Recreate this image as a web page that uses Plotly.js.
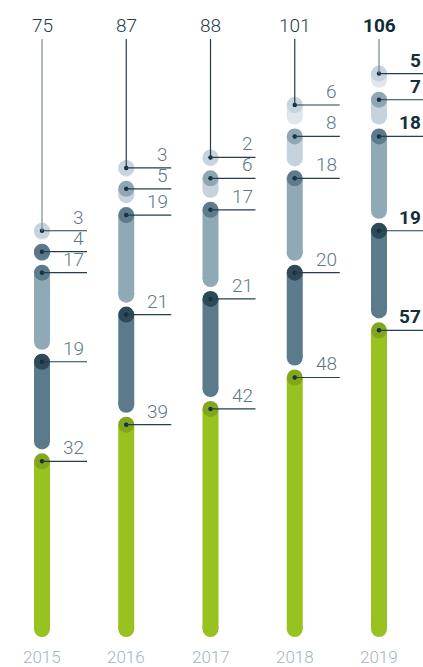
<!DOCTYPE html>
<html>
<head>
<meta charset="utf-8">
<script src="https://cdn.plot.ly/plotly-3.0.1.min.js"></script>
<style>html,body{margin:0;padding:0;background:#fff;}#chart{width:423px;height:667px;}</style>
</head>
<body>
<div id="chart"></div>
<script>
// ---- data ----
const years = [2015, 2016, 2017, 2018, 2019];
const yearLabels = ["2015", "2016", "2017", "2018", "2019"];
const seriesGreen = [32, 39, 42, 48, 57];
const seriesDark = [19, 21, 21, 20, 19];
const seriesMid = [17, 19, 17, 18, 18];
const seriesLight = [4, 5, 6, 8, 7];
const seriesLightest = [3, 3, 2, 6, 5];
const totals = [75, 87, 88, 101, 106];

// ---- style ----
const layers = [seriesGreen, seriesDark, seriesMid, seriesLight, seriesLightest];
const bodyColors = ["#97c21f", "#5b7b8c", "#90a9b7", "#c6d3dc", "#dfe6ec"];
const capColors  = ["#82a61c", "#2e4a59", "#5d7b8b", "#8fa7b5", "#c7d4dd"];
const overrides = {"0-3": {body: "#7d97a5", cap: "#5b7888"}};
const totalLineColors = ["#7a8e98", "#1f3c4a", "#1f3c4a", "#1f3c4a", "#6d8694"];
const ZERO_PX = 629, PX_PER_UNIT = 5.24, H = 667;
const pxToVal = px => (ZERO_PX - px) / PX_PER_UNIT;
const GAP = 3.8;        // gap below each capsule, in units
const MIN_SEG = 4;      // minimum drawn height of a segment, in units
const BAR_W = 16;
const X0_PX = 42, STEP_PX = 84.25, W = 423;

const traces = [];
const shapes = [];
const annotations = [];
const dotX = [], dotY = [];

years.forEach((yr, i) => {
  let pos = 0;
  layers.forEach((layer, k) => {
    const v = layer[i];
    const prev = pos;
    pos += Math.max(v, MIN_SEG);
    const bottom = k === 0 ? 0 : Math.min(prev + GAP, pos);
    const ov = overrides[i + "-" + k];
    const body = ov ? ov.body : bodyColors[k];
    const cap = ov ? ov.cap : capColors[k];
    traces.push({
      type: "scatter", mode: "lines+markers", x: [yr, yr], y: [bottom, pos],
      line: {color: body, width: BAR_W},
      marker: {size: BAR_W, color: [body, cap], line: {width: 0}},
      hoverinfo: "skip", showlegend: false, cliponaxis: false
    });
    dotX.push(yr); dotY.push(pos);
    shapes.push({
      type: "line", xref: "x", yref: "y", xsizemode: "pixel", xanchor: yr,
      x0: 0, x1: 45, y0: pos, y1: pos,
      line: {color: "#233f4d", width: 1.2}
    });
    const bold = i === years.length - 1;
    annotations.push({
      x: yr, y: pos, xref: "x", yref: "y", text: String(v), showarrow: false,
      xanchor: "right", yanchor: "bottom", xshift: 44, yshift: 0,
      font: {family: "Roboto, 'Liberation Sans', sans-serif", size: 19,
             weight: bold ? 700 : 300, color: bold ? "#142f3c" : "#5e7787"}
    });
  });
  // total leader
  shapes.push({
    type: "line", xref: "x", yref: "y", x0: yr, x1: yr, y0: pos, y1: pxToVal(39),
    line: {color: totalLineColors[i], width: 1.2}
  });
  const bold = i === years.length - 1;
  annotations.push({
    x: yr, y: pxToVal(25), xref: "x", yref: "y", text: String(totals[i]), showarrow: false,
    xanchor: "center", yanchor: "middle",
    font: {family: "Roboto, 'Liberation Sans', sans-serif", size: 19,
           weight: bold ? 700 : 300, color: bold ? "#102b38" : "#1f3c49"}
  });
  annotations.push({
    x: yr, y: pxToVal(657), xref: "x", yref: "y", text: yearLabels[i], showarrow: false,
    xanchor: "center", yanchor: "middle",
    font: {family: "'Liberation Sans Narrow', Roboto, sans-serif", size: 17, weight: 300, color: "#a3b5c0"}
  });
});

traces.push({
  type: "scatter", mode: "markers", x: dotX, y: dotY,
  marker: {size: 4.5, color: "#14303e"}, hoverinfo: "skip", showlegend: false, cliponaxis: false
});

const layout = {
  width: W, height: H,
  margin: {l: 0, r: 0, t: 0, b: 0},
  paper_bgcolor: "#ffffff", plot_bgcolor: "#ffffff",
  showlegend: false,
  xaxis: {range: [2015 - X0_PX / STEP_PX, 2015 + (W - X0_PX) / STEP_PX], visible: false, fixedrange: true},
  yaxis: {range: [pxToVal(H), pxToVal(0)], visible: false, fixedrange: true},
  shapes: shapes,
  annotations: annotations
};

Plotly.newPlot("chart", traces, layout, {displayModeBar: false, staticPlot: true});
</script>
</body>
</html>
